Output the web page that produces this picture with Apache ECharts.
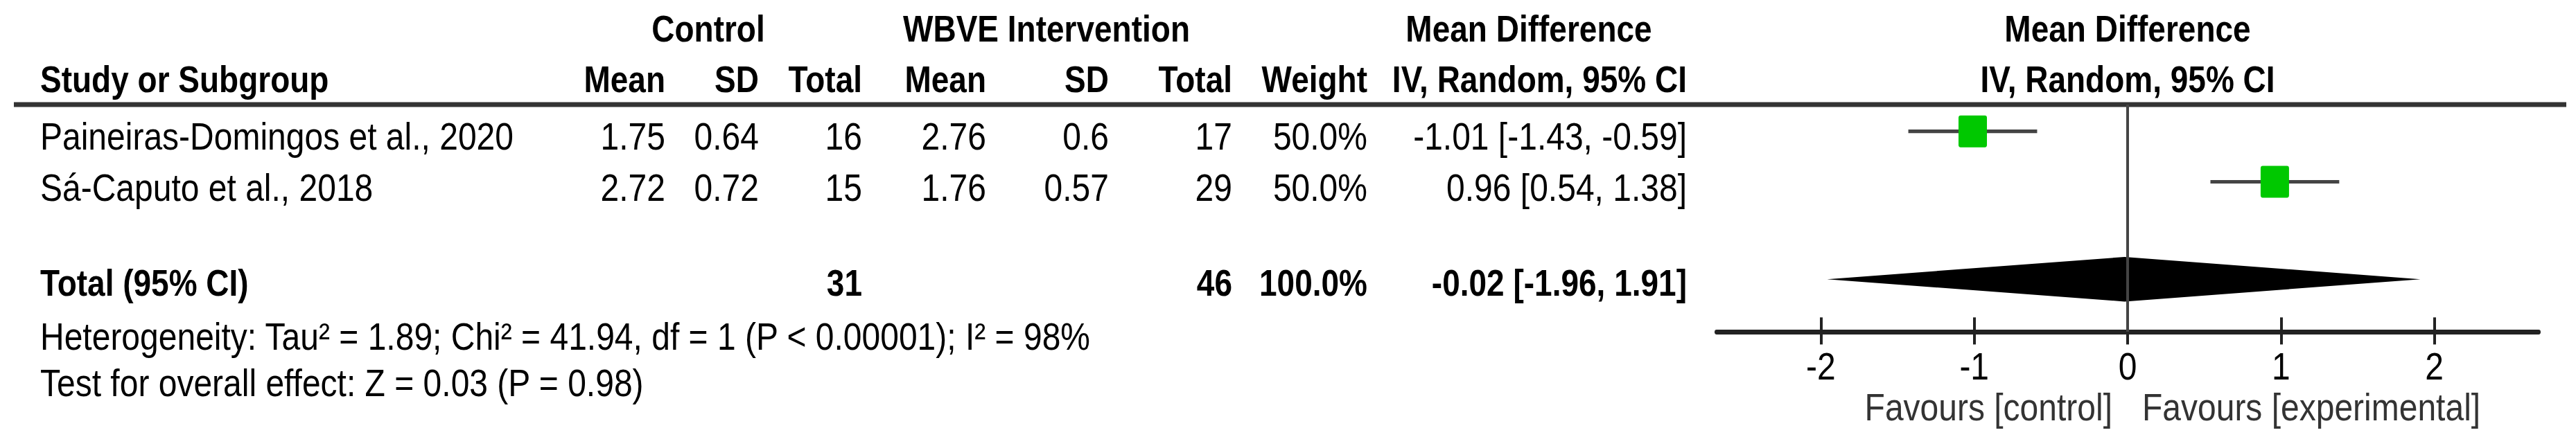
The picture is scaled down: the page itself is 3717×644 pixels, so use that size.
<!DOCTYPE html>
<html>
<head>
<meta charset="utf-8">
<script src="https://cdn.jsdelivr.net/npm/echarts@6.0.0/dist/echarts.min.js"></script>
<style>
html, body { margin: 0; padding: 0; background: #fff; overflow: hidden; }
#wrap { width: 3717px; height: 644px; overflow: hidden; background: #fff; }
#chart { width: 3717px; height: 560px; transform: scaleY(1.15); transform-origin: 0 0; }
</style>
</head>
<body>
<div id="wrap"><div id="chart"></div></div>
<script>
// ---- data ----
const studies = ['Paineiras-Domingos et al., 2020', 'Sá-Caputo et al., 2018'];
const ctrlMean = [1.75, 2.72];
const ctrlSD = [0.64, 0.72];
const ctrlTotal = [16, 15];
const expMean = [2.76, 1.76];
const expSD = [0.6, 0.57];
const expTotal = [17, 29];
const weights = [50.0, 50.0];
const mdValues = [-1.01, 0.96];
const ciLow = [-1.43, 0.54];
const ciHigh = [-0.59, 1.38];
const totalCtrl = 31;
const totalExp = 46;
const totalWeight = 100.0;
const totalMD = -0.02;
const totalLow = -1.96;
const totalHigh = 1.91;
const tickValues = [-2, -1, 0, 1, 2];
const heterogeneityText = 'Heterogeneity: Tau\u00b2 = 1.89; Chi\u00b2 = 41.94, df = 1 (P < 0.00001); I\u00b2 = 98%';
const overallText = 'Test for overall effect: Z = 0.03 (P = 0.98)';
const favoursLeft = 'Favours [control]';
const favoursRight = 'Favours [experimental]';

// ---- layout ----
const FONT = "'Liberation Sans', Arial, Helvetica, sans-serif";
const FS = 48, FSB = 46;
const SY = 1.15;               // vertical stretch of the picture
const py = v => v / SY;        // picture y -> chart y
const colX = { name: 58, cMean: 960, cSD: 1095, cTot: 1244, eMean: 1423, eSD: 1600, eTot: 1778, w: 1973, ci: 2434 };
const rowY = { h1: py(42), h2: py(115), r: [py(197), py(271)], tot: py(409), het: py(486), test: py(553), fav: py(588) };
const TOTAL_POS = 3.93;

function txt(x, y, s, align, bold, color) {
  return {
    type: 'text', x: x, y: y, silent: true,
    style: {
      text: s, fill: color || '#000', align: align || 'left', verticalAlign: 'middle',
      fontFamily: FONT, fontSize: bold ? FSB : FS, fontWeight: bold ? 'bold' : 'normal'
    }
  };
}
const f2 = v => v.toFixed(2);
const ciStr = (m, l, h) => f2(m) + ' [' + f2(l) + ', ' + f2(h) + ']';

const graphics = [];
// headers
graphics.push(txt(1022, rowY.h1, 'Control', 'center', true));
graphics.push(txt(1510, rowY.h1, 'WBVE Intervention', 'center', true));
graphics.push(txt(2206, rowY.h1, 'Mean Difference', 'center', true));
graphics.push(txt(3070, rowY.h1, 'Mean Difference', 'center', true));
graphics.push(txt(colX.name, rowY.h2, 'Study or Subgroup', 'left', true));
graphics.push(txt(colX.cMean, rowY.h2, 'Mean', 'right', true));
graphics.push(txt(colX.cSD, rowY.h2, 'SD', 'right', true));
graphics.push(txt(colX.cTot, rowY.h2, 'Total', 'right', true));
graphics.push(txt(colX.eMean, rowY.h2, 'Mean', 'right', true));
graphics.push(txt(colX.eSD, rowY.h2, 'SD', 'right', true));
graphics.push(txt(colX.eTot, rowY.h2, 'Total', 'right', true));
graphics.push(txt(colX.w, rowY.h2, 'Weight', 'right', true));
graphics.push(txt(colX.ci, rowY.h2, 'IV, Random, 95% CI', 'right', true));
graphics.push(txt(3070, rowY.h2, 'IV, Random, 95% CI', 'center', true));
// header rule
graphics.push({ type: 'line', silent: true, shape: { x1: 20, y1: py(151), x2: 3703, y2: py(151) }, style: { stroke: '#333', lineWidth: 6 } });
// study rows
studies.forEach((s, i) => {
  const y = rowY.r[i];
  graphics.push(txt(colX.name, y, s, 'left'));
  graphics.push(txt(colX.cMean, y, String(ctrlMean[i]), 'right'));
  graphics.push(txt(colX.cSD, y, String(ctrlSD[i]), 'right'));
  graphics.push(txt(colX.cTot, y, String(ctrlTotal[i]), 'right'));
  graphics.push(txt(colX.eMean, y, String(expMean[i]), 'right'));
  graphics.push(txt(colX.eSD, y, String(expSD[i]), 'right'));
  graphics.push(txt(colX.eTot, y, String(expTotal[i]), 'right'));
  graphics.push(txt(colX.w, y, weights[i].toFixed(1) + '%', 'right'));
  graphics.push(txt(colX.ci, y, ciStr(mdValues[i], ciLow[i], ciHigh[i]), 'right'));
});
// total row
graphics.push(txt(colX.name, rowY.tot, 'Total (95% CI)', 'left', true));
graphics.push(txt(colX.cTot, rowY.tot, String(totalCtrl), 'right', true));
graphics.push(txt(colX.eTot, rowY.tot, String(totalExp), 'right', true));
graphics.push(txt(colX.w, rowY.tot, totalWeight.toFixed(1) + '%', 'right', true));
graphics.push(txt(colX.ci, rowY.tot, ciStr(totalMD, totalLow, totalHigh), 'right', true));
graphics.push(txt(colX.name, rowY.het, heterogeneityText, 'left'));
graphics.push(txt(colX.name, rowY.test, overallText, 'left'));
graphics.push(txt(3048, rowY.fav, favoursLeft, 'right', false, '#333'));
graphics.push(txt(3091, rowY.fav, favoursRight, 'left', false, '#333'));

const GRID_TOP = py(151), GRID_BOTTOM = py(479);
const AX = { min: -2.68, max: 2.68 };

const option = {
  animation: false,
  backgroundColor: '#fff',
  grid: { left: 2477, top: GRID_TOP, width: 1186, height: GRID_BOTTOM - GRID_TOP },
  xAxis: [
    {
      type: 'value', min: AX.min, max: AX.max, position: 'bottom',
      axisLine: { show: true, onZero: false, lineStyle: { color: '#222', width: 6 } },
      axisTick: { show: true, inside: false, length: 16, customValues: tickValues, lineStyle: { color: '#222', width: 4 } },
      axisLabel: { show: true, customValues: tickValues, margin: 19, color: '#000', fontSize: FS, fontFamily: FONT, formatter: v => String(v) },
      splitLine: { show: false }
    },
    {
      type: 'value', min: AX.min, max: AX.max, position: 'bottom', gridIndex: 0,
      axisLine: { show: false },
      axisTick: { show: true, inside: true, length: 18, customValues: tickValues, lineStyle: { color: '#222', width: 4 } },
      axisLabel: { show: false },
      splitLine: { show: false }
    }
  ],
  yAxis: { type: 'value', min: 0.47, max: 4.97, inverse: true, show: false },
  graphic: graphics,
  series: [
    {
      type: 'custom', xAxisIndex: 0, yAxisIndex: 0, silent: true,
      encode: { x: [0, 1, 2], y: 3 },
      data: studies.map((_, i) => [mdValues[i], ciLow[i], ciHigh[i], i + 1]),
      renderItem: function (params, api) {
        const y = api.value(3);
        const a = api.coord([api.value(1), y]);
        const b = api.coord([api.value(2), y]);
        const m = api.coord([api.value(0), y]);
        return {
          type: 'group', children: [
            { type: 'line', shape: { x1: a[0], y1: a[1], x2: b[0], y2: b[1] }, style: { stroke: '#444', lineWidth: 4.5 } },
            { type: 'rect', shape: { x: m[0] - 20.5, y: m[1] - 20, width: 41, height: 40, r: 3 }, style: { fill: '#00c800' } }
          ]
        };
      },
      markLine: {
        silent: true, symbol: 'none', label: { show: false },
        lineStyle: { color: '#444', width: 4, type: 'solid' },
        data: [{ xAxis: 0 }]
      },
      z: 3
    },
    {
      type: 'custom', xAxisIndex: 0, yAxisIndex: 0, silent: true,
      encode: { x: [0, 1, 2], y: 3 },
      data: [[totalMD, totalLow, totalHigh, TOTAL_POS]],
      renderItem: function (params, api) {
        const y = api.value(3);
        const l = api.coord([api.value(1), y]);
        const h = api.coord([api.value(2), y]);
        const m = api.coord([api.value(0), y]);
        const hh = 28;
        return {
          type: 'polygon',
          shape: { points: [[l[0], l[1]], [m[0], m[1] - hh], [h[0], h[1]], [m[0], m[1] + hh]] },
          style: { fill: '#000' }
        };
      },
      z: 4
    }
  ]
};

const chart = echarts.init(document.getElementById('chart'), null, { renderer: 'svg' });
chart.setOption(option);
</script>
</body>
</html>
